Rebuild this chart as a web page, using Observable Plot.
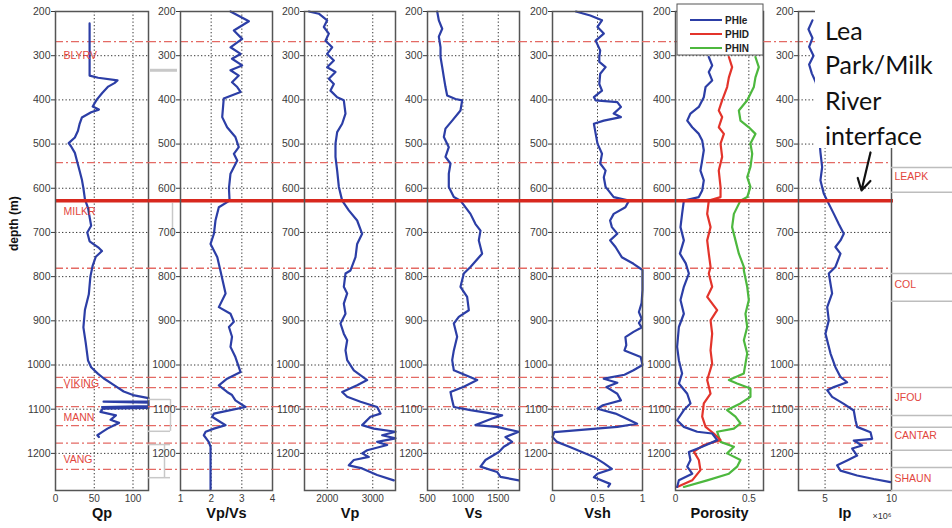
<!DOCTYPE html>
<html><head><meta charset="utf-8">
<script src="https://cdn.jsdelivr.net/npm/d3@7"></script>
<script src="https://cdn.jsdelivr.net/npm/@observablehq/plot@0.6"></script>
<style>
body{margin:0;background:#fff;}
#chart{position:relative;width:952px;height:528px;overflow:hidden;background:#fff;font-family:"Liberation Sans",Arial,sans-serif;}
#chart svg{position:absolute;top:0;}
</style></head><body><div id="chart"></div>
<script>
// ---------- data ----------
const depthTicks = [200,300,400,500,600,700,800,900,1000,1100,1200];
const formationDepths = [268,542,781,1028,1051,1094,1137,1177,1236];
const interfaceDepth = [628];
const leftTopNames = ["BLYRV","MILKR","VIKING","MANN","VANG"];
const leftTopDepths = [300,652,1042,1119,1214];
const rightTopNames = ["LEAPK","COL","JFOU","CANTAR","SHAUN"];
const rightTopDepths = [573,818,1073,1159,1257];
const rightTopLines = [553,609,793,856,1051,1114,1141,1193,1232,1284];
const gapTicks = [1078,1150,1180,1255];
const gapBar = [333];
const gapSpans = [[634,711],[1078,1150],[1180,1255]];

const qpDepth = [227,250,300,345,350,356,362,370,385,400,415,422,428,440,455,470,485,498,505,520,540,560,580,600,625,645,665,685,700,720,735,742,755,775,800,840,875,915,950,990,1005,1020,1030,1045,1060,1068,1075,1082,1083,1085,1093,1095,1097,1099,1106,1114,1124,1131,1137,1144,1152,1159,1163];
const qpValue = [44,44,44,44,55,80,76,68,60,53,48,56,46,34,31,29,25,17,20,25,28,31,34,36,38,42,44,46,41,44,56,60,52,48,45,43,38,36,39,42,46,55,62,75,88,100,120,120,62,120,120,60,120,61,58,78,71,82,75,67,60,54,56];

const vpvsDepth = [200,222,243,262,281,296,307,322,333,345,360,371,382,397,439,462,484,507,522,537,567,600,628,643,673,703,726,756,786,838,869,884,902,914,936,959,982,1004,1016,1031,1046,1061,1068,1080,1095,1102,1110,1117,1129,1136,1144,1151,1159,1174,1185,1283];
const vpvsValue = [2.63,3.23,2.74,3.01,2.63,2.96,2.68,3.01,2.63,2.90,2.68,2.85,2.96,2.41,2.36,2.52,2.79,2.90,2.74,2.85,2.63,2.58,2.6,2.25,2.14,2.09,1.98,2.2,2.3,2.47,2.25,2.63,2.74,2.58,2.68,2.63,2.79,2.9,2.96,2.52,2.25,2.52,2.68,2.79,3.12,2.63,2.09,2.03,2.3,2.47,2.09,1.82,1.76,1.92,1.98,1.98];

const vpDepth = [200,205,220,235,250,266,281,296,311,326,337,352,364,379,394,401,431,454,473,499,529,560,597,628,650,673,703,726,756,786,793,823,838,861,884,906,929,944,967,989,1012,1034,1046,1061,1072,1083,1095,1110,1117,1136,1144,1151,1159,1166,1174,1181,1193,1200,1208,1215,1227,1234,1249,1261];
const vpValue = [1595,1815,1998,1925,2035,1962,2108,1998,2145,1998,2181,2035,2145,2071,2218,2364,2401,2328,2218,2181,2181,2218,2255,2328,2474,2657,2767,2657,2621,2511,2401,2364,2438,2364,2401,2291,2364,2438,2401,2438,2584,2877,2657,2328,2438,2731,3097,3170,2950,2767,3023,3500,3207,3500,3097,3317,2877,2767,2914,2584,2474,2767,3097,3463];

const vsDepth = [200,220,239,257,281,303,326,349,371,390,398,401,424,447,465,484,507,529,544,567,597,620,628,658,681,696,718,748,778,793,823,846,876,891,906,936,967,989,1012,1034,1049,1061,1080,1095,1102,1110,1114,1121,1136,1140,1151,1163,1174,1185,1197,1215,1230,1242,1253,1261];
const vsValue = [637,660,708,660,684,684,708,731,754,778,895,990,966,849,754,731,801,754,825,801,801,872,966,1107,1178,1249,1225,1272,1107,1013,966,1060,1084,942,872,919,872,849,872,1202,1013,825,849,872,1107,1414,1555,1414,1178,1484,1790,1602,1696,1578,1508,1319,1249,1484,1531,1790];

const vshDepth = [200,209,220,235,250,266,288,303,314,326,341,364,379,394,401,405,416,431,439,447,454,477,499,522,544,560,575,597,620,628,643,658,673,688,703,718,733,756,771,785,830,860,880,895,905,915,925,937,955,967,982,1000,1012,1022,1031,1040,1050,1065,1080,1091,1099,1110,1122,1133,1140,1152,1163,1174,1186,1208,1222,1235,1246,1254,1269,1275];
const vshValue = [0.26,0.42,0.55,0.5,0.57,0.48,0.53,0.52,0.52,0.59,0.53,0.52,0.55,0.46,0.48,0.72,0.76,0.68,0.76,0.57,0.46,0.48,0.5,0.55,0.53,0.59,0.57,0.59,0.68,0.85,0.81,0.68,0.64,0.66,0.72,0.64,0.7,0.77,0.9,1.0,1.0,0.99,0.96,0.99,0.96,0.99,0.9,0.81,0.82,0.8,0.98,1.0,0.9,0.8,0.57,0.72,0.6,0.72,0.76,0.56,0.5,0.7,0.83,0.94,0.72,0.02,0.0,0.05,0.2,0.46,0.57,0.66,0.5,0.46,0.64,0.62];

const phieDepth = [303,322,337,356,371,394,416,431,447,462,477,492,514,537,560,582,605,620,628,658,688,718,748,770,793,823,853,884,914,959,989,1019,1042,1065,1087,1102,1125,1140,1151,1155,1170,1185,1197,1215,1230,1246,1261,1276];
const phieValue = [0.227,0.25,0.227,0.25,0.205,0.193,0.159,0.102,0.08,0.114,0.159,0.182,0.193,0.182,0.17,0.193,0.182,0.159,0.057,0.045,0.034,0.057,0.03,0.07,0.091,0.057,0.034,0.057,0.023,0.011,0.023,0.045,0.023,0.08,0.102,0.057,0.011,0.057,0.148,0.25,0.284,0.182,0.091,0.102,0.08,0.114,0.023,0.011];

const phidDepth = [303,326,349,371,401,424,439,462,477,499,529,560,597,620,628,658,688,718,748,778,793,823,846,876,899,929,967,997,1034,1065,1087,1117,1140,1155,1170,1181,1196,1215,1238,1261,1276];
const phidValue = [0.364,0.386,0.364,0.352,0.318,0.295,0.318,0.295,0.33,0.307,0.318,0.295,0.307,0.307,0.227,0.216,0.239,0.216,0.227,0.239,0.227,0.25,0.216,0.284,0.239,0.25,0.239,0.25,0.216,0.239,0.193,0.182,0.205,0.261,0.307,0.193,0.125,0.159,0.17,0.114,0.011];

const phinDepth = [303,326,349,371,401,424,447,462,477,499,522,552,575,597,620,628,658,688,718,748,778,786,823,853,884,914,944,974,997,1019,1034,1042,1053,1072,1087,1102,1117,1132,1144,1151,1174,1185,1200,1215,1230,1246,1261,1276];
const phinValue = [0.545,0.568,0.545,0.534,0.489,0.432,0.443,0.5,0.545,0.511,0.523,0.511,0.489,0.511,0.489,0.443,0.398,0.386,0.409,0.432,0.466,0.466,0.489,0.5,0.477,0.489,0.466,0.489,0.477,0.466,0.364,0.42,0.511,0.511,0.443,0.352,0.409,0.443,0.398,0.284,0.307,0.398,0.352,0.443,0.42,0.364,0.216,0.057];

const ipDepth = [220,240,260,280,300,320,340,360,400,450,500,518,552,582,612,628,658,681,703,718,733,748,778,793,838,869,899,929,974,1005,1027,1039,1050,1057,1072,1088,1103,1125,1140,1152,1167,1171,1182,1189,1205,1216,1227,1239,1250,1258,1265];
const ipValue = [4.05,3.75,4.05,3.8,4.13,3.8,4.0,4.3,4.5,4.6,4.6,4.65,4.78,4.65,4.9,5.16,5.66,6.03,6.41,6.16,5.78,6.16,5.78,5.28,5.53,5.16,5.28,5.03,5.41,5.78,6.16,6.66,5.66,5.16,5.53,6.41,7.16,7.29,7.41,8.42,8.54,7.16,7.79,7.04,7.41,6.66,5.91,6.16,7.41,8.67,9.92];

const arrowNote = [{x1:8.42, y1:519, x2:7.74, y2:605}];
const legendNames = ["PHIe","PHID","PHIN"];
const noteLines = ["Lea","Park/Milk","River","interface"];

// ---------- layout ----------
const BLUE = "#2c3ea6", RED = "#e3342b", GREEN = "#4db83e", TOPRED = "#e2463e";
const ser = (ds, vs) => ds.map((d, i) => ({depth: d, value: vs[i]}));
const panels = [
  {left:0,   ml:55, fw:93, mr:0,  domain:[0,120],     ticks:[0,50,100],      title:"Qp",       curves:[[qpDepth,qpValue,BLUE]]},
  {left:148, ml:32, fw:92, mr:0,  domain:[1,4],       ticks:[1,2,3,4],       title:"Vp/Vs",    curves:[[vpvsDepth,vpvsValue,BLUE]]},
  {left:272, ml:32, fw:91, mr:0,  domain:[1500,3500], ticks:[2000,3000],     title:"Vp",       curves:[[vpDepth,vpValue,BLUE]]},
  {left:395, ml:32, fw:92, mr:0,  domain:[500,1800],  ticks:[500,1000,1500], title:"Vs",       curves:[[vsDepth,vsValue,BLUE]]},
  {left:519, ml:33, fw:90, mr:0,  domain:[0,1],       ticks:[0,0.5,1],       title:"Vsh",      curves:[[vshDepth,vshValue,BLUE]]},
  {left:642, ml:33, fw:88, mr:0,  domain:[0,0.6],     ticks:[0,0.5],         title:"Porosity", curves:[[phinDepth,phinValue,GREEN],[phidDepth,phidValue,RED],[phieDepth,phieValue,BLUE]]},
  {left:763, ml:35, fw:93, mr:61, domain:[3,10],      ticks:[5,10],          title:"Ip",       curves:[[ipDepth,ipValue,BLUE]]}
];
const H = 528, MT = 11, MB = 38;
const chart = document.getElementById("chart");
const gridStyle = {stroke:"#111", strokeOpacity:0.85, strokeDasharray:"1.3,2.2", strokeWidth:1};

panels.forEach((p, i) => {
  const ext = i > 0 ? -p.ml : 0;
  const marks = [
    Plot.gridY(depthTicks, gridStyle),
    Plot.gridX(p.ticks, gridStyle),
    Plot.ruleY(formationDepths, {stroke:"#e46a64", strokeWidth:1.3, strokeDasharray:"8,3,2,3", insetLeft: ext})
  ];
  if (i === 1) {
    marks.push(Plot.ruleY(gapBar, {stroke:"#c8c8c8", strokeWidth:3, insetLeft:-30, insetRight:p.fw+3}));
    marks.push(Plot.ruleY(gapTicks, {stroke:"#c8c8c8", strokeWidth:1.5, insetLeft:-32, insetRight:p.fw+10}));
    gapSpans.forEach((s, k) => marks.push(Plot.ruleX([p.domain[0]], {y1:s[0], y2:s[1], dx:[-8,-10,-16][k], stroke:"#c8c8c8", strokeWidth:1.5})));
  }
  p.curves.forEach(([ds, vs, c]) => marks.push(Plot.line(ser(ds, vs), {x:"value", y:"depth", stroke:c, strokeWidth:2.2})));
  marks.push(Plot.ruleY(interfaceDepth, {stroke:"#d8281e", strokeWidth:3.5, insetLeft: ext, insetRight: i === 6 ? -2 : 0}));
  marks.push(Plot.frame({stroke:"#555", strokeWidth:1.5}));
  marks.push(Plot.axisY(depthTicks, {anchor:"left", tickSize:4, tickPadding:1, fontSize:10.5, color:"#3a3a3a", label:null, tickFormat:d => String(d)}));
  marks.push(Plot.axisX(p.ticks, {anchor:"bottom", tickSize:0, tickPadding:4, fontSize:10, color:"#3a3a3a", label:null, tickFormat:d => String(d)}));
  marks.push(Plot.text([p.title], {text:d => d, frameAnchor:"bottom", dy:27, fontWeight:"bold", fontSize:14.5, fill:"#111"}));
  if (i === 0) {
    marks.push(Plot.text(["depth (m)"], {text:d => d, frameAnchor:"left", dx:-41, rotate:-90, fontWeight:"bold", fontSize:12, fill:"#111"}));
    marks.push(Plot.text(leftTopNames.map((n, k) => ({name:n, depth:leftTopDepths[k]})), {y:"depth", text:"name", frameAnchor:"left", dx:8, textAnchor:"start", fill:TOPRED, fontSize:10.5}));
  }
  if (i === 6) {
    marks.push(Plot.ruleY(rightTopLines, {stroke:"#bdbdbd", strokeWidth:1.5, insetLeft:p.fw, insetRight:-p.mr}));
    marks.push(Plot.text(rightTopNames.map((n, k) => ({name:n, depth:rightTopDepths[k]})), {y:"depth", text:"name", frameAnchor:"right", dx:3, textAnchor:"start", fill:TOPRED, fontSize:10.5}));
    marks.push(Plot.text(["×10⁶"], {text:d => d, frameAnchor:"bottom-right", dx:-19, dy:28, textAnchor:"start", fontSize:9, fill:"#333"}));
    marks.push(Plot.arrow(arrowNote, {x1:"x1", y1:"y1", x2:"x2", y2:"y2", stroke:"#111", strokeWidth:2.2, headLength:10}));
  }
  const svg = Plot.plot({
    width: p.ml + p.fw + p.mr, height: H,
    marginLeft: p.ml, marginRight: p.mr, marginTop: MT, marginBottom: MB,
    x: {domain: p.domain},
    y: {domain: [200, 1284], reverse: true},
    style: {background:"transparent", overflow:"visible", fontFamily:"'Liberation Sans', Arial, sans-serif"},
    marks
  });
  svg.style.left = p.left + "px";
  chart.appendChild(svg);
});

// overlay: legend + annotation box
const ns = "http://www.w3.org/2000/svg";
const ov = document.createElementNS(ns, "svg");
ov.setAttribute("width", 952); ov.setAttribute("height", 528);
ov.style.left = "0px"; ov.style.pointerEvents = "none";
const legendColors = [BLUE, RED, GREEN];
let html = `<rect x="677" y="4" width="86" height="51" fill="#fff" stroke="#555" stroke-width="1"/>`;
legendNames.forEach((n, k) => {
  const y = 20 + k * 14;
  html += `<line x1="690" x2="722" y1="${y}" y2="${y}" stroke="${legendColors[k]}" stroke-width="2"/>`;
  html += `<text x="725" y="${y + 3.5}" font-size="10" font-weight="bold" fill="#222" font-family="'Liberation Sans',Arial,sans-serif">${n}</text>`;
});
html += `<rect x="815" y="0" width="137" height="148" fill="#fff"/>`;
noteLines.forEach((t, k) => {
  html += `<text x="825" y="${[40, 74, 110, 145][k]}" font-size="25" fill="#111" font-family="Lato, 'Open Sans', sans-serif">${t}</text>`;
});
ov.innerHTML = html;
chart.appendChild(ov);
</script>
</body></html>
